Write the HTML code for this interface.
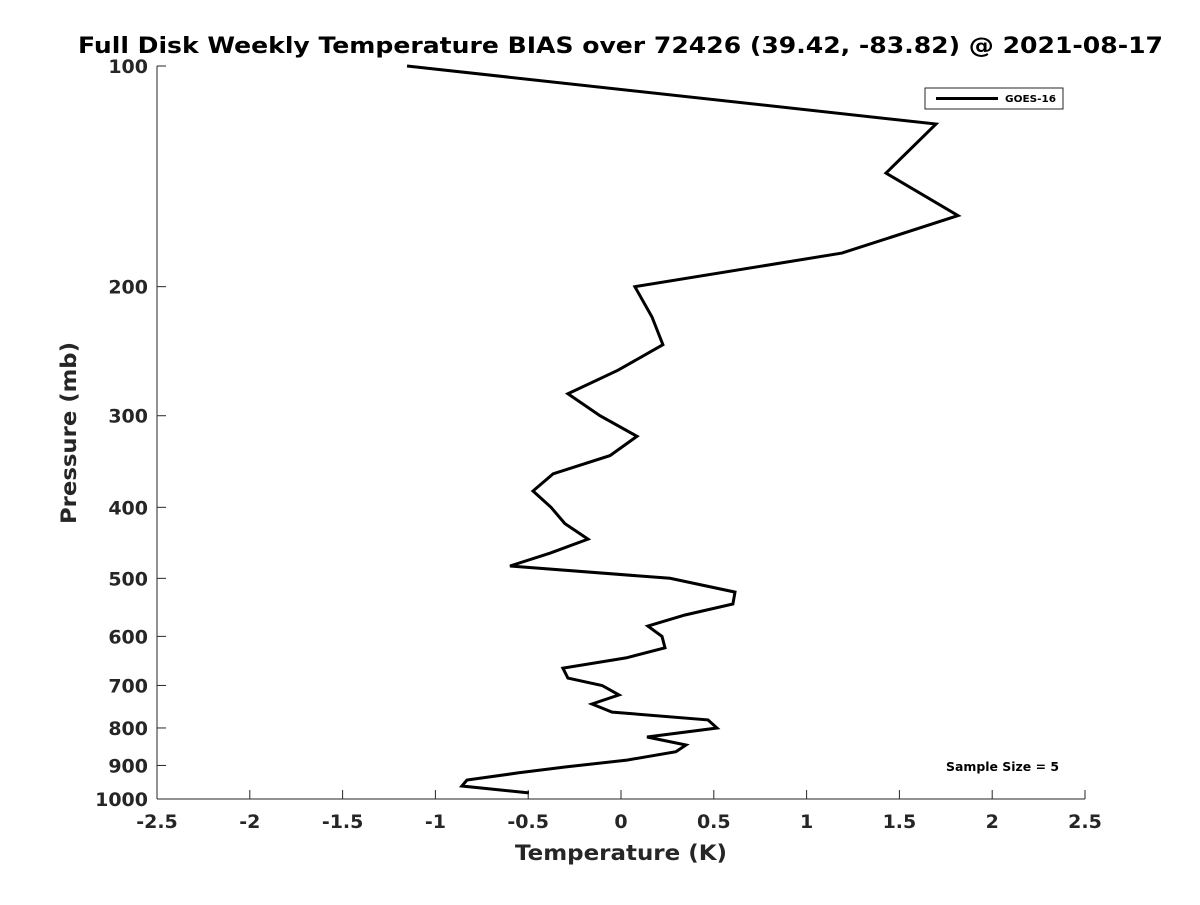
<!DOCTYPE html>
<html><head><meta charset="utf-8"><style>
html,body{margin:0;padding:0;background:#fff;}
svg text{font-family:"DejaVu Sans","Liberation Sans",sans-serif;font-weight:bold;fill:#262626;}
</style></head><body>
<svg id="chart" width="1200" height="900" viewBox="0 0 1200 900" xmlns="http://www.w3.org/2000/svg">
<rect width="1200" height="900" fill="#fff"/>
<text x="78" y="53" font-size="22" textLength="1085" lengthAdjust="spacingAndGlyphs" style="fill:#000">Full Disk Weekly Temperature BIAS over 72426 (39.42, -83.82) @ 2021-08-17</text>
<g id="axes"></g>
<path id="series" fill="none" stroke="#000" stroke-width="3" stroke-linejoin="miter"/>
<g>
<rect x="925" y="88" width="138" height="21" fill="#fff" stroke="#262626" stroke-width="1"/>
<line x1="936" y1="98.5" x2="998" y2="98.5" stroke="#000" stroke-width="3"/>
<text x="1005" y="102" font-size="10" textLength="51" lengthAdjust="spacingAndGlyphs" style="fill:#000">GOES-16</text>
</g>
<text x="946" y="771" font-size="12" textLength="113" lengthAdjust="spacingAndGlyphs" style="fill:#000">Sample Size = 5</text>
<text x="515" y="860" font-size="21" textLength="212" lengthAdjust="spacingAndGlyphs">Temperature (K)</text>
<text transform="translate(76,524) rotate(-90)" font-size="21" textLength="182" lengthAdjust="spacingAndGlyphs">Pressure (mb)</text>
</svg>
<script>
const temps=[-1.153,1.697,1.428,1.816,1.19,0.075,0.167,0.226,-0.016,-0.286,-0.113,0.086,-0.059,-0.366,-0.474,-0.377,-0.302,-0.178,-0.383,-0.598,0.264,0.614,0.603,0.345,0.145,0.221,0.237,0.027,-0.313,-0.286,-0.102,-0.011,-0.156,-0.048,0.469,0.517,0.14,0.35,0.296,0.032,-0.296,-0.55,-0.83,-0.857,-0.496];
const pressures=[100,120,140,160,180,200,220,240,260,280,300,320,340,360,380,400,421,442,462,481,500,522,542,561,581,600,622,642,663,684,700,721,742,761,780,800,823,844,862,885,904,921,942,960,981];
const xTicks=[-2.5,-2,-1.5,-1,-0.5,0,0.5,1,1.5,2,2.5];
const yTicks=[100,200,300,400,500,600,700,800,900,1000];
const X0=157,X1=1085,Y0=66,Y1=799;
function xs(t){return X0+(t+2.5)/5*(X1-X0);}
function ys(p){return Y0+Math.log10(p/100)*(Y1-Y0);}
const NS="http://www.w3.org/2000/svg";
const ax=document.getElementById('axes');
function mk(tag,attrs,parent){const e=document.createElementNS(NS,tag);for(const k in attrs)e.setAttribute(k,attrs[k]);parent.appendChild(e);return e;}
const xl=mk('line',{x1:X0,y1:Y1,x2:X1,y2:Y1,stroke:'#262626','stroke-width':1},ax);


const yl=mk('line',{x1:X0,y1:Y0,x2:X0,y2:Y1,stroke:'#262626','stroke-width':1},ax);


xTicks.forEach(t=>{const x=xs(t);
mk('line',{x1:x,y1:Y1,x2:x,y2:Y1-9,stroke:'#262626'},ax);
const tx=mk('text',{x:x,y:Y1+29,'text-anchor':'middle','font-size':19},ax);tx.textContent=String(t);

});
yTicks.forEach(p=>{const y=ys(p);
mk('line',{x1:X0,y1:y,x2:X0+9,y2:y,stroke:'#262626'},ax);
const tx=mk('text',{x:X0-9,y:y+7,'text-anchor':'end','font-size':19},ax);tx.textContent=String(p);

});
document.getElementById('series').setAttribute('d',temps.map((t,i)=>(i?'L':'M')+xs(t).toFixed(1)+' '+ys(pressures[i]).toFixed(1)).join(' '));
</script>
</body></html>
